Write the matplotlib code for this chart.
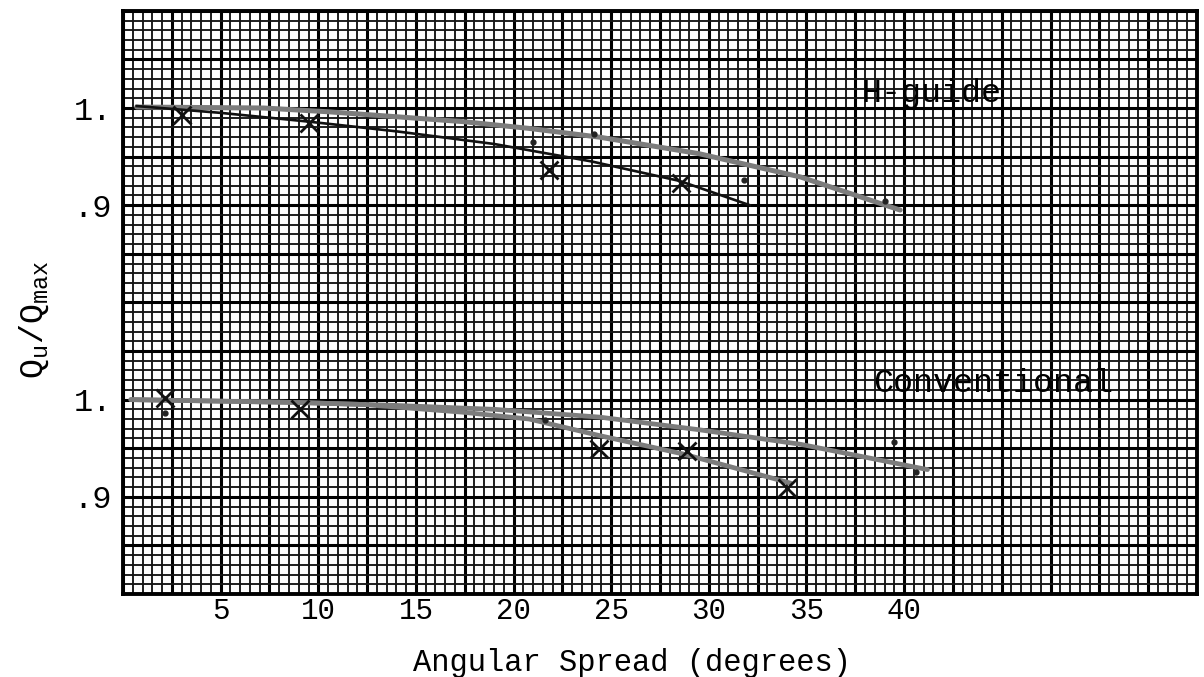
import matplotlib
matplotlib.use("Agg")
import matplotlib.pyplot as plt
from matplotlib.ticker import MultipleLocator, FuncFormatter

plt.rcParams["font.family"] = ["Liberation Mono", "DejaVu Sans Mono"]
plt.rcParams["mathtext.fontset"] = "custom"
plt.rcParams["mathtext.rm"] = "Liberation Mono"
plt.rcParams["mathtext.it"] = "Liberation Mono"
plt.rcParams["mathtext.default"] = "rm"

# ---- H-guide (upper panel) ----
h_line_a_x = [0.7, 5.0, 9.5, 14.0, 19.0, 24.0, 28.5, 32.1]
h_line_a_y = [1.002, 0.995, 0.986, 0.976, 0.963, 0.945, 0.925, 0.900]
h_line_b_x = [0.7, 7.2, 10.6, 14.0, 17.4, 20.8, 24.4, 29.5, 34.7, 39.8]
h_line_b_y = [1.001, 1.000, 0.996, 0.991, 0.986, 0.979, 0.970, 0.953, 0.929, 0.895]
h_cross_x = [3.0, 9.5, 21.8, 28.6]
h_cross_y = [0.993, 0.985, 0.936, 0.923]
h_dot_x = [21.0, 24.1, 31.8, 39.0]
h_dot_y = [0.965, 0.973, 0.926, 0.904]

# ---- Conventional (lower panel) ----
c_line_a_x = [0.4, 9.0, 14.0, 19.0, 24.4, 29.5, 34.7, 41.2]
c_line_a_y = [1.000, 0.997, 0.994, 0.990, 0.982, 0.969, 0.954, 0.928]
c_line_b_x = [0.4, 9.0, 12.3, 17.4, 20.8, 24.4, 28.7, 34.2]
c_line_b_y = [1.000, 0.997, 0.995, 0.987, 0.980, 0.963, 0.944, 0.914]
c_cross_x = [2.15, 9.06, 24.4, 28.9, 34.0]
c_cross_y = [1.002, 0.990, 0.949, 0.947, 0.909]
c_dot_x = [2.15, 21.6, 39.5, 40.6]
c_dot_y = [0.986, 0.979, 0.956, 0.926]

x_labels = [5, 10, 15, 20, 25, 30, 35, 40]
y_labels = {1.0: "1.", 0.9: ".9"}

fig = plt.figure(figsize=(12.04, 6.77), dpi=100)
rect = [123 / 1204, 1 - 594 / 677, 1074 / 1204, 583.2 / 677]

ax = fig.add_axes(rect)
ax.set_xlim(0, 55)
ax.set_ylim(0.5, 1.1)

# graph-paper grid
ax.xaxis.set_major_locator(MultipleLocator(2.5))
ax.xaxis.set_minor_locator(MultipleLocator(0.5))
ax.yaxis.set_major_locator(MultipleLocator(0.05))
ax.yaxis.set_minor_locator(MultipleLocator(0.01))
ax.grid(which="major", color="black", lw=2.2)
ax.grid(which="minor", color="#161616", lw=1.35)
ax.set_axisbelow(True)
for s in ax.spines.values():
    s.set_linewidth(2.8)

def xfmt(v, pos):
    r = round(v, 3)
    return f"{int(r)}" if r in x_labels else ""

def yfmt(v, pos):
    for key, lab in y_labels.items():
        if abs(v - key) < 1e-6:
            return lab
    return ""

ax.xaxis.set_major_formatter(FuncFormatter(xfmt))
ax.yaxis.set_major_formatter(FuncFormatter(yfmt))
ax.tick_params(which="both", length=0)
ax.tick_params(axis="x", labelsize=21, pad=2)
ax.tick_params(axis="y", labelsize=23, pad=8)

ax.set_xlabel("Angular Spread (degrees)", fontsize=22)
ax.xaxis.label.set_va("center")
ax.xaxis.set_label_coords(0.474, -0.118)
ax.set_ylabel(r"$Q_u/Q_{max}$", fontsize=24)
ax.yaxis.label.set_va("center")
ax.yaxis.set_label_coords(-0.083, 0.47)

# H-guide curves
grey = "#7c7c7c"
ax.plot(h_line_b_x, h_line_b_y, color=grey, lw=3.6, solid_capstyle="round", zorder=3)
ax.plot(h_line_a_x, h_line_a_y, color="#111111", lw=1.9, zorder=4)
ax.plot(h_cross_x, h_cross_y, ls="none", marker="x", ms=13, mew=2.0, color="#111111", zorder=5)
ax.plot(h_dot_x, h_dot_y, ls="none", marker="o", ms=3.5, color="#222222", zorder=5)
ax.text(37.8, 1.015, "H-guide", fontsize=24, va="center", ha="left", zorder=6)

# Conventional curves on an overlaid axes with its own value scale
ax2 = fig.add_axes(rect, sharex=ax)
ax2.set_ylim(0.8, 1.4)
ax2.patch.set_visible(False)
for s in ax2.spines.values():
    s.set_visible(False)
ax2.set_yticks(list(y_labels.keys()))
ax2.set_yticklabels(list(y_labels.values()))
ax2.tick_params(which="both", length=0)
ax2.tick_params(axis="y", labelsize=23, pad=8)
ax2.tick_params(axis="x", labelbottom=False)
ax2.grid(False)

ax2.plot(c_line_a_x, c_line_a_y, color=grey, lw=3.4, solid_capstyle="round", zorder=3)
ax2.plot(c_line_b_x, c_line_b_y, color=grey, lw=3.4, solid_capstyle="round", zorder=3)
ax2.plot(c_cross_x, c_cross_y, ls="none", marker="x", ms=13, mew=2.0, color="#111111", zorder=5)
ax2.plot(c_dot_x, c_dot_y, ls="none", marker="o", ms=3.5, color="#222222", zorder=5)
ax2.text(38.4, 1.017, "Conventional", fontsize=24, va="center", ha="left", zorder=6)

fig.savefig("out.png", dpi=100)
